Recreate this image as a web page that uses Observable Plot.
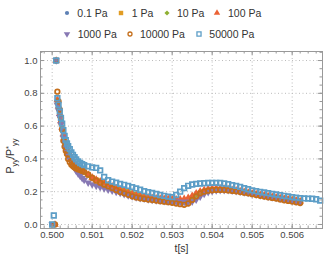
<!DOCTYPE html>
<html><head><meta charset="utf-8">
<script src="https://cdn.jsdelivr.net/npm/d3@7"></script>
<script src="https://cdn.jsdelivr.net/npm/@observablehq/plot@0.6"></script>
<style>
body{margin:0;background:#fff;font-family:"Liberation Sans",Arial,sans-serif;}
#wrap{position:relative;width:325px;height:262px;overflow:hidden;background:#fff}
#legend{position:relative;width:325px;height:45px}
.lab{position:absolute;font-size:10.5px;line-height:14px;color:#333;white-space:nowrap}
.mk{position:absolute}
#chart svg{display:block}
</style></head><body>
<div id="wrap"><div id="legend"></div><div id="chart"></div></div>
<script>
// ---- data ----
const seriesLabels = ["0.1 Pa", "1 Pa", "10 Pa", "100 Pa", "1000 Pa", "10000 Pa", "50000 Pa"];
const t = [0.5, 0.50004, 0.50007, 0.5001, 0.50013, 0.50016, 0.50019, 0.50022, 0.50025, 0.50028, 0.50031, 0.50034,
  0.50037, 0.5004, 0.50044, 0.50048, 0.50052, 0.50056, 0.5006, 0.50065, 0.5007, 0.50075, 0.5008, 0.5009,
  0.501, 0.5011, 0.5012, 0.5013, 0.5014, 0.5015, 0.5016, 0.5017, 0.5018, 0.5019,
  0.502, 0.5021, 0.5022, 0.5023, 0.5024, 0.5025, 0.5026, 0.5027, 0.5028, 0.5029,
  0.503, 0.5031, 0.5032, 0.5033, 0.5034, 0.5035, 0.5036, 0.5037, 0.5038, 0.5039,
  0.504, 0.5041, 0.5042, 0.5043, 0.5044, 0.5045, 0.5046, 0.5047, 0.5048, 0.5049,
  0.505, 0.5051, 0.5052, 0.5053, 0.5054, 0.5055, 0.5056, 0.5057, 0.5058, 0.5059,
  0.506, 0.5061, 0.5062, 0.5063, 0.5064, 0.5065, 0.5066, 0.5067, 0.5068];
const p01 = [0, null, null, 1.0, 0.76, 0.72, 0.68, 0.63, 0.59, 0.55, 0.515, 0.49, 0.465, 0.445, 0.425, 0.405, 0.39, 0.375, 0.362, 0.35, 0.34, 0.33, 0.32, 0.303,
  0.285, 0.273, 0.262, 0.251, 0.241, 0.231, 0.221, 0.211, 0.202, 0.194, 0.186, 0.179, 0.173, 0.167, 0.162, 0.158, 0.154, 0.151, 0.148, 0.146,
  0.144, 0.142, 0.141, 0.143, 0.152, 0.167, 0.183, 0.195, 0.203, 0.209, 0.213, 0.215, 0.215, 0.214, 0.212, 0.209, 0.206, 0.202, 0.198, 0.194,
  0.189, 0.185, 0.18, 0.176, 0.172, 0.168, 0.164, 0.16, 0.156, 0.152, 0.148, 0.144, 0.14];
const p1 = [0, null, null, 1.0, 0.745, 0.71, 0.665, 0.62, 0.58, 0.54, 0.505, 0.48, 0.455, 0.435, 0.415, 0.397, 0.382, 0.368, 0.355, 0.344, 0.334, 0.325, 0.316, 0.3,
  0.283, 0.272, 0.26, 0.25, 0.24, 0.23, 0.22, 0.21, 0.201, 0.193, 0.185, 0.178, 0.172, 0.166, 0.161, 0.157, 0.153, 0.15, 0.147, 0.145,
  0.143, 0.141, 0.14, 0.141, 0.149, 0.163, 0.179, 0.192, 0.201, 0.207, 0.211, 0.213, 0.214, 0.213, 0.211, 0.208, 0.205, 0.201, 0.197, 0.193,
  0.188, 0.184, 0.179, 0.175, 0.171, 0.167, 0.163, 0.159, 0.155, 0.151, 0.147, 0.143, 0.139];
const p10 = [0, null, null, 1.0, 0.755, 0.715, 0.67, 0.625, 0.585, 0.545, 0.51, 0.485, 0.46, 0.44, 0.42, 0.4, 0.386, 0.372, 0.36, 0.348, 0.338, 0.328, 0.318, 0.302,
  0.287, 0.276, 0.265, 0.255, 0.245, 0.236, 0.227, 0.218, 0.21, 0.202, 0.194, 0.186, 0.179, 0.172, 0.166, 0.161, 0.157, 0.153, 0.15, 0.147,
  0.145, 0.143, 0.142, 0.144, 0.153, 0.168, 0.184, 0.196, 0.204, 0.21, 0.214, 0.216, 0.216, 0.215, 0.213, 0.21, 0.207, 0.203, 0.2, 0.196,
  0.192, 0.188, 0.184, 0.18, 0.176, 0.172, 0.168, 0.164, 0.161, 0.158, 0.155, 0.151, 0.147];
const p100 = [null, null, 0, 1.0, 0.76, 0.72, 0.675, 0.63, 0.59, 0.55, 0.515, 0.49, 0.465, 0.445, 0.425, 0.405, 0.39, 0.376, 0.363, 0.351, 0.341, 0.331, 0.321, 0.304,
  0.286, 0.274, 0.263, 0.252, 0.242, 0.232, 0.222, 0.212, 0.203, 0.195, 0.187, 0.18, 0.174, 0.169, 0.165, 0.162, 0.16, 0.158, 0.157, 0.156,
  0.155, 0.154, 0.154, 0.156, 0.163, 0.175, 0.19, 0.202, 0.211, 0.217, 0.221, 0.222, 0.221, 0.219, 0.216, 0.212, 0.208, 0.204, 0.199, 0.195,
  0.19, 0.186, 0.181, 0.177, 0.173, 0.169, 0.165, 0.161, 0.157, 0.153, 0.149, 0.145, 0.141];
const p1000 = [0, null, null, 1.0, 0.73, 0.695, 0.655, 0.61, 0.57, 0.53, 0.495, 0.465, 0.44, 0.418, 0.397, 0.378, 0.36, 0.343, 0.327, 0.31, 0.296, 0.283, 0.272, 0.255,
  0.245, 0.236, 0.228, 0.22, 0.213, 0.206, 0.199, 0.192, 0.185, 0.178, 0.172, 0.166, 0.161, 0.157, 0.153, 0.15, 0.147, 0.145, 0.143, 0.141,
  0.14, 0.139, 0.138, 0.137, 0.137, 0.14, 0.152, 0.17, 0.186, 0.197, 0.204, 0.208, 0.21, 0.21, 0.209, 0.207, 0.204, 0.2, 0.196, 0.192,
  0.187, 0.183, 0.178, 0.174, 0.17, 0.166, 0.162, 0.158, 0.154, 0.15, 0.146, 0.142, 0.138];
const p10000 = [null, null, 0, 1.0, 0.81, 0.75, 0.70, 0.65, 0.58, 0.51, 0.475, 0.45, 0.43, 0.40, 0.38, 0.365, 0.355, 0.348, 0.342, 0.336, 0.332, 0.327, 0.322, 0.305,
  0.285, 0.267, 0.255, 0.243, 0.233, 0.222, 0.21, 0.198, 0.19, 0.181, 0.172, 0.165, 0.16, 0.156, 0.152, 0.149, 0.146, 0.142, 0.139, 0.136,
  0.132, 0.128, 0.124, 0.12, 0.128, 0.15, 0.172, 0.19, 0.2, 0.206, 0.209, 0.211, 0.211, 0.21, 0.208, 0.205, 0.202, 0.198, 0.194, 0.19,
  0.185, 0.18, 0.175, 0.17, 0.166, 0.162, 0.158, 0.153, 0.148, 0.144, 0.14, 0.135, 0.131];
const p50000 = [0, 0.055, null, 1.0, 0.77, 0.73, 0.69, 0.65, 0.615, 0.575, 0.54, 0.515, 0.495, 0.478, 0.46, 0.44, 0.425, 0.41, 0.397, 0.385, 0.375, 0.368, 0.362, 0.355,
  0.348, 0.345, 0.33, 0.29, 0.27, 0.262, 0.255, 0.248, 0.242, 0.235, 0.228, 0.22, 0.212, 0.203, 0.197, 0.192, 0.186, 0.18, 0.175, 0.17,
  0.167, 0.18, 0.2, 0.222, 0.236, 0.244, 0.248, 0.25, 0.252, 0.253, 0.254, 0.254, 0.253, 0.25, 0.246, 0.24, 0.235, 0.229, 0.222, 0.215,
  0.208, 0.203, 0.199, 0.195, 0.191, 0.187, 0.183, 0.179, 0.175, 0.171, 0.167, 0.164, 0.161, 0.159, 0.158, 0.157, 0.154, 0.146];
const xTicks = [0.500, 0.501, 0.502, 0.503, 0.504, 0.505, 0.506];
const yTicks = [0.0, 0.2, 0.4, 0.6, 0.8, 1.0];

// ---- styles ----
const triDown = {draw(ctx, size) {
  const y = Math.sqrt(size / (Math.sqrt(3) * 3));
  ctx.moveTo(0, 2 * y); ctx.lineTo(-Math.sqrt(3) * y, -y); ctx.lineTo(Math.sqrt(3) * y, -y); ctx.closePath();
}};
const styles = [
  {symbol: "circle", fill: "#5E81B5", r: 2.5, lr: 2.1},
  {symbol: "square", fill: "#E19C24", r: 2.9, lr: 2.5},
  {symbol: "diamond2", fill: "#8FB032", r: 2.7, lr: 2.3},
  {symbol: "triangle", fill: "#EB6235", r: 2.8, lr: 2.4},
  {symbol: triDown, fill: "#8778B3", r: 2.8, lr: 2.4},
  {symbol: "circle", fill: "none", stroke: "#C56E1A", strokeWidth: 1.7, r: 2.3, lr: 2.0, lsw: 1.3},
  {symbol: "square", fill: "none", stroke: "#5D9EC7", strokeWidth: 1.7, r: 2.6, lr: 2.3, lsw: 1.3}
];
const values = [p01, p1, p10, p100, p1000, p10000, p50000];
const rowsOf = arr => t.map((tt, i) => ({t: tt, v: arr[i]})).filter(d => d.v != null && d.v !== undefined);

const W = 325, H = 217, mL = 40, mR = 3, mT = 6, mB = 34;
const fw = W - mL - mR, fh = H - mT - mB;
const xMinor = d3.range(0.4998, 0.5067, 0.0002);
const yMinor = d3.range(0, 1.051, 0.05);

const tickColor = "#999";
const plot = Plot.plot({
  width: W, height: H,
  marginLeft: mL, marginRight: mR, marginTop: mT, marginBottom: mB,
  x: {domain: [0.499708, 0.506758]},
  y: {domain: [-0.0244, 1.055]},
  style: {fontFamily: "Liberation Sans, Arial, sans-serif", fontSize: "9.5px", color: "#444", background: "white"},
  marks: [
    Plot.gridX(xTicks, {stroke: "#bbb", strokeOpacity: 1, strokeDasharray: "1,2.5"}),
    Plot.gridY(yTicks, {stroke: "#bbb", strokeOpacity: 1, strokeDasharray: "1,2.5"}),
    ...values.map((arr, k) => {
      const {lr, lsw, ...st} = styles[k];
      return Plot.dot(rowsOf(arr), {x: "t", y: "v", ...st});
    }),
    Plot.frame({stroke: tickColor}),
    Plot.tickX(xTicks, {x: d => d, stroke: tickColor, insetTop: fh - 4}),
    Plot.tickX(xTicks, {x: d => d, stroke: tickColor, insetBottom: fh - 4}),
    Plot.tickX(xMinor, {x: d => d, stroke: tickColor, insetTop: fh - 2.5}),
    Plot.tickX(xMinor, {x: d => d, stroke: tickColor, insetBottom: fh - 2.5}),
    Plot.tickY(yTicks, {y: d => d, stroke: tickColor, insetRight: fw - 4}),
    Plot.tickY(yTicks, {y: d => d, stroke: tickColor, insetLeft: fw - 4}),
    Plot.tickY(yMinor, {y: d => d, stroke: tickColor, insetRight: fw - 2.5}),
    Plot.tickY(yMinor, {y: d => d, stroke: tickColor, insetLeft: fw - 2.5}),
    Plot.axisX(xTicks, {tickSize: 0, tickPadding: 3, tickFormat: d3.format(".3f"), label: null}),
    Plot.axisY(yTicks, {tickSize: 0, tickPadding: 3, tickFormat: d3.format(".1f"), label: null}),
    Plot.text(["t[s]"], {frameAnchor: "bottom", dy: 23, fontSize: 10.5, fill: "#333"})
  ]
});
document.getElementById("chart").appendChild(plot);

// y axis label with sub/superscripts
const svg = d3.select(plot);
const yl = svg.append("text").attr("transform", "translate(14,111) rotate(-90)")
  .attr("text-anchor", "middle").attr("font-size", 10.5).attr("fill", "#333")
  .attr("font-family", "Liberation Sans, Arial, sans-serif");
yl.append("tspan").text("P");
yl.append("tspan").attr("font-size", 7.5).attr("dy", 2.5).text("yy");
yl.append("tspan").attr("dy", -2.5).text("/P");
yl.append("tspan").attr("font-size", 7.5).attr("dy", -3.5).text("*");
yl.append("tspan").attr("font-size", 7.5).attr("dy", 6).text("yy");

// legend
const legendPos = [[66.7, 77.3, 12.5], [121, 131.7, 12.5], [166.7, 177, 12.5], [217.3, 228, 12.5],
                   [66.7, 77.7, 34], [130, 140, 34], [199.3, 209.3, 34]];
const leg = document.getElementById("legend");
const symMap = {circle: d3.symbolCircle, square: d3.symbolSquare, diamond2: d3.symbolDiamond2, triangle: d3.symbolTriangle};
seriesLabels.forEach((name, k) => {
  const [mx, lx, y] = legendPos[k];
  const st = styles[k];
  const s = d3.create("svg").attr("width", 12).attr("height", 12).attr("class", "mk")
    .style("left", (mx - 6) + "px").style("top", (y - 6) + "px");
  const type = typeof st.symbol === "string" ? symMap[st.symbol] : st.symbol;
  s.append("path").attr("transform", "translate(6,6)")
    .attr("d", d3.symbol(type, Math.PI * st.lr * st.lr)())
    .attr("fill", st.fill).attr("stroke", st.stroke || "none").attr("stroke-width", st.lsw || 0);
  leg.appendChild(s.node());
  const span = document.createElement("span");
  span.className = "lab"; span.textContent = name;
  span.style.left = lx + "px"; span.style.top = (y - 7) + "px";
  leg.appendChild(span);
});
</script>
</body></html>
